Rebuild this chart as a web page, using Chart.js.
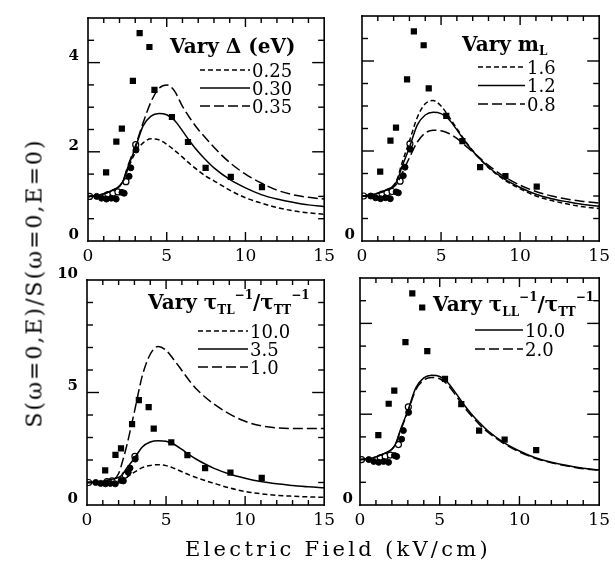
<!DOCTYPE html>
<html>
<head>
<meta charset="utf-8">
<script src="https://cdn.jsdelivr.net/npm/chart.js@4.4.1/dist/chart.umd.min.js"></script>
<style>
  body { margin: 0; background: #fff; }
  #wrap { position: relative; width: 615px; height: 571px; overflow: hidden; background: #fff; }
  #wrap canvas { position: absolute; }
  .ytitle { position: absolute; left: 34px; top: 283px; transform: translate(-50%, -50%) rotate(-90deg);
            font: 22px "DejaVu Serif"; letter-spacing: 2px; white-space: nowrap; color: #000; }
  .xtitle { position: absolute; left: 338px; top: 549px; transform: translate(-50%, -50%);
            font: 21px "DejaVu Serif"; letter-spacing: 3.3px; white-space: nowrap; color: #000; }
</style>
</head>
<body>
<div id="wrap">
  <canvas id="panelA" width="300" height="265" style="left:40px;top:0px"></canvas>
  <canvas id="panelB" width="285" height="265" style="left:330px;top:0px"></canvas>
  <canvas id="panelC" width="300" height="280" style="left:40px;top:262px"></canvas>
  <canvas id="panelD" width="285" height="280" style="left:330px;top:262px"></canvas>
  <div class="ytitle">S(ω=0,E)/S(ω=0,E=0)</div>
  <div class="xtitle">Electric Field (kV/cm)</div>
</div>
<script>
const fieldGrid = [0, 0.5, 1, 1.5, 2, 2.25, 2.5, 3, 3.5, 4, 4.5, 5, 5.5, 6, 6.5, 7, 7.5, 8, 9, 10, 11, 12, 13, 14, 15];

// reference model (Δ=0.30 eV, m_L=1.2, τTL ratio 3.5, τLL ratio 10.0)
const baseModel = [1.00, 1.02, 1.06, 1.13, 1.23, 1.36, 1.62, 2.08, 2.58, 2.80, 2.86, 2.83, 2.70, 2.47, 2.22, 2.00, 1.81, 1.64, 1.38, 1.19, 1.04, 0.94, 0.87, 0.81, 0.77];

// vary Δ
const delta025 = [1.00, 1.02, 1.06, 1.13, 1.23, 1.35, 1.58, 1.98, 2.20, 2.29, 2.27, 2.17, 2.03, 1.88, 1.72, 1.58, 1.45, 1.35, 1.14, 0.97, 0.85, 0.75, 0.68, 0.63, 0.60];
const delta035 = [1.00, 1.02, 1.06, 1.13, 1.23, 1.37, 1.65, 2.12, 2.65, 3.12, 3.42, 3.50, 3.36, 3.02, 2.74, 2.50, 2.30, 2.10, 1.76, 1.50, 1.30, 1.14, 1.04, 0.98, 0.94];

// vary m_L
const mass16 = [1.00, 1.02, 1.06, 1.13, 1.24, 1.40, 1.70, 2.22, 2.75, 3.05, 3.12, 3.00, 2.76, 2.50, 2.24, 2.01, 1.81, 1.63, 1.36, 1.16, 1.00, 0.90, 0.82, 0.76, 0.72];
const mass08 = [1.00, 1.02, 1.06, 1.12, 1.20, 1.30, 1.48, 1.85, 2.20, 2.40, 2.46, 2.45, 2.39, 2.28, 2.13, 1.98, 1.83, 1.68, 1.43, 1.24, 1.10, 1.00, 0.93, 0.88, 0.84];

// vary τTL^-1 / τTT^-1
const tauTL100 = [1.00, 1.00, 1.00, 1.01, 1.06, 1.12, 1.22, 1.46, 1.66, 1.76, 1.79, 1.75, 1.63, 1.48, 1.33, 1.20, 1.08, 0.97, 0.76, 0.60, 0.50, 0.43, 0.39, 0.36, 0.34];
const tauTL10 = [1.00, 1.00, 1.00, 1.05, 1.40, 1.95, 2.60, 4.15, 5.75, 6.70, 7.05, 6.88, 6.45, 5.98, 5.50, 5.10, 4.78, 4.50, 4.05, 3.72, 3.52, 3.43, 3.40, 3.40, 3.40];

// vary τLL^-1 / τTT^-1
const tauLL20 = [1.00, 1.02, 1.06, 1.13, 1.23, 1.35, 1.60, 2.05, 2.54, 2.75, 2.81, 2.78, 2.65, 2.42, 2.17, 1.96, 1.77, 1.61, 1.36, 1.17, 1.03, 0.93, 0.86, 0.80, 0.77];

// measured points (same in every panel)
const squareField = [1.15, 1.8, 2.15, 2.85, 3.28, 3.9, 4.22, 5.33, 6.35, 7.47, 9.07, 11.05];
const squareS = [1.54, 2.23, 2.52, 3.59, 4.66, 4.35, 3.39, 2.78, 2.22, 1.64, 1.44, 1.21];
const dotField = [0.55, 0.86, 1.17, 1.48, 1.79, 2.16, 2.3, 2.61, 2.72, 3.05];
const dotS = [1.0, 0.96, 0.94, 0.96, 0.94, 1.09, 1.07, 1.45, 1.64, 2.04];
const ringField = [0.1, 1.27, 1.58, 1.9, 2.41, 3.03];
const ringS = [1.0, 1.04, 1.07, 1.1, 1.33, 2.16];

const xTicks = [0, 5, 10, 15];

const SHORT = [5, 3];
const LONG = [10, 4];
const SERIF = '"DejaVu Serif", serif';

function pairs(xs, ys) {
  return xs.map((x, i) => ({ x: x, y: ys[i] }));
}

function curve(label, values, dash) {
  return {
    label: label,
    data: pairs(fieldGrid, values),
    borderColor: '#000',
    borderWidth: 1.5,
    borderDash: dash,
    pointRadius: 0,
    cubicInterpolationMode: 'monotone',
    fill: false
  };
}

function markers() {
  return [
    { label: '', data: pairs(squareField, squareS), showLine: false, pointStyle: 'rect',
      pointRadius: 4.4, backgroundColor: '#000', borderColor: '#000', borderWidth: 0 },
    { label: '', data: pairs(dotField, dotS), showLine: false, pointStyle: 'circle',
      pointRadius: 3, backgroundColor: '#000', borderColor: '#000', borderWidth: 1 },
    { label: '', data: pairs(ringField, ringS), showLine: false, pointStyle: 'circle',
      pointRadius: 3, backgroundColor: '#fff', borderColor: '#000', borderWidth: 1.2 }
  ];
}

// frame with inward ticks on four sides (filled bars, 1.6 px thick)
function drawFrame(chart, cfg) {
  const ctx = chart.ctx;
  const a = chart.chartArea;
  const xs = chart.scales.x, ys = chart.scales.y;
  const t = 1.6, h = t / 2;
  ctx.save();
  ctx.fillStyle = '#000';
  ctx.fillRect(a.left - h, a.top - h, a.right - a.left + t, t);
  ctx.fillRect(a.left - h, a.bottom - h, a.right - a.left + t, t);
  ctx.fillRect(a.left - h, a.top - h, t, a.bottom - a.top + t);
  ctx.fillRect(a.right - h, a.top - h, t, a.bottom - a.top + t);
  for (let v = 1; v < 15; v++) {
    const px = xs.getPixelForValue(v);
    const len = v % 5 === 0 ? 9 : 5;
    ctx.fillRect(px - 0.7, a.bottom - len, 1.4, len);
    ctx.fillRect(px - 0.7, a.top, 1.4, len);
  }
  const n = Math.round(cfg.yMax / cfg.yMinor);
  for (let i = 1; i < n; i++) {
    const v = i * cfg.yMinor;
    const py = ys.getPixelForValue(v);
    const r = v / cfg.yMajor;
    const len = Math.abs(r - Math.round(r)) < 1e-6 ? 12 : 6;
    ctx.fillRect(a.left, py - 0.7, len, 1.4);
    ctx.fillRect(a.right - len, py - 0.7, len, 1.4);
  }
  ctx.restore();
}

function drawLegend(chart, lg) {
  const ctx = chart.ctx;
  const a = chart.chartArea;
  ctx.save();
  ctx.fillStyle = '#000';
  ctx.textBaseline = 'alphabetic';
  let tx = a.left + lg.titleX;
  lg.title.forEach(([txt, size, dy]) => {
    ctx.font = 'bold ' + size + 'px ' + SERIF;
    ctx.fillText(txt, tx, a.top + lg.titleY + dy);
    tx += ctx.measureText(txt).width;
  });
  const lines = chart.data.datasets.filter(d => d.label);
  lines.forEach((d, k) => {
    const cy = a.top + lg.rowY + k * lg.rowStep;
    ctx.beginPath();
    ctx.setLineDash(d.borderDash || []);
    ctx.lineWidth = 1.5;
    ctx.strokeStyle = '#000';
    ctx.moveTo(a.left + lg.lineX0, cy);
    ctx.lineTo(a.left + lg.lineX1, cy);
    ctx.stroke();
    ctx.setLineDash([]);
    ctx.font = '18px ' + SERIF;
    ctx.fillText(d.label, a.left + lg.textX, cy + 6.5);
  });
  ctx.restore();
}

function makePanel(id, datasets, cfg) {
  const ctx = document.getElementById(id).getContext('2d');
  return new Chart(ctx, {
    type: 'line',
    data: { datasets: datasets.concat(markers()) },
    options: {
      responsive: false,
      animation: false,
      events: [],
      layout: { padding: { left: 0, right: cfg.padRight, top: cfg.padTop, bottom: 0 } },
      scales: {
        x: {
          type: 'linear', min: 0, max: 15,
          afterBuildTicks: s => { s.ticks = xTicks.map(v => ({ value: v })); },
          afterFit: s => { s.height = cfg.xHeight; },
          grid: { display: false, drawTicks: false },
          border: { display: false },
          ticks: { padding: 5, color: '#000', maxRotation: 0,
                   font: { family: SERIF, size: 17 } }
        },
        y: {
          type: 'linear', min: 0, max: cfg.yMax,
          afterBuildTicks: s => { s.ticks = cfg.yTicks.map(v => ({ value: v })); },
          afterFit: s => { s.width = cfg.yWidth; },
          grid: { display: false, drawTicks: false },
          border: { display: false },
          ticks: {
            padding: cfg.yPad, color: '#000', labelOffset: -6,
            font: { family: SERIF, size: 15, weight: 'bold' },
            callback: v => (cfg.yLabels || v === 0) ? String(v) : ''
          }
        }
      },
      plugins: {
        legend: { display: false },
        tooltip: { enabled: false }
      }
    },
    plugins: [{
      id: 'panelInk',
      afterDraw(chart) {
        drawLegend(chart, cfg.legend);
        drawFrame(chart, cfg);
      }
    }]
  });
}

makePanel('panelA', [
  curve('0.25', delta025, SHORT),
  curve('0.30', baseModel, []),
  curve('0.35', delta035, LONG)
], {
  padRight: 15, padTop: 10, xHeight: 24, yWidth: 48, yPad: 9, yLabels: true,
  yMax: 5, yTicks: [0, 2, 4], yMinor: 0.5, yMajor: 2,
  legend: { title: [['Vary Δ (eV)', 20, 0]], titleX: 82, titleY: 35,
            lineX0: 112, lineX1: 162, textX: 164, rowY: 52, rowStep: 18 }
});

makePanel('panelB', [
  curve('1.6', mass16, SHORT),
  curve('1.2', baseModel, []),
  curve('0.8', mass08, LONG)
], {
  padRight: 12, padTop: 11, xHeight: 24, yWidth: 32, yPad: 7, yLabels: false,
  yMax: 5, yTicks: [0, 2, 4], yMinor: 0.5, yMajor: 2,
  legend: { title: [['Vary m', 20, 0], ['L', 12, 4]], titleX: 100, titleY: 35,
            lineX0: 116, lineX1: 163, textX: 165, rowY: 51, rowStep: 18.5 }
});

makePanel('panelC', [
  curve('10.0', tauTL100, SHORT),
  curve('3.5', baseModel, []),
  curve('1.0', tauTL10, LONG)
], {
  padRight: 15, padTop: 13, xHeight: 37, yWidth: 47, yPad: 9, yLabels: true,
  yMax: 10, yTicks: [0, 5, 10], yMinor: 1, yMajor: 5,
  legend: { title: [['Vary τ', 20, 0], ['TL', 12, 5], ['−1', 12, -10], ['/τ', 20, 0], ['TT', 12, 5], ['−1', 12, -10]],
            titleX: 61, titleY: 29, lineX0: 111, lineX1: 161, textX: 163, rowY: 51, rowStep: 18 }
});

makePanel('panelD', [
  curve('10.0', baseModel, []),
  curve('2.0', tauLL20, LONG)
], {
  padRight: 13, padTop: 13, xHeight: 37, yWidth: 30, yPad: 7, yLabels: false,
  yMax: 5, yTicks: [0, 2, 4], yMinor: 0.5, yMajor: 2,
  legend: { title: [['Vary τ', 20, 0], ['LL', 12, 5], ['−1', 12, -10], ['/τ', 20, 0], ['TT', 12, 5], ['−1', 12, -10]],
            titleX: 73, titleY: 33, lineX0: 115, lineX1: 163, textX: 165, rowY: 52, rowStep: 19 }
});
</script>
</body>
</html>
